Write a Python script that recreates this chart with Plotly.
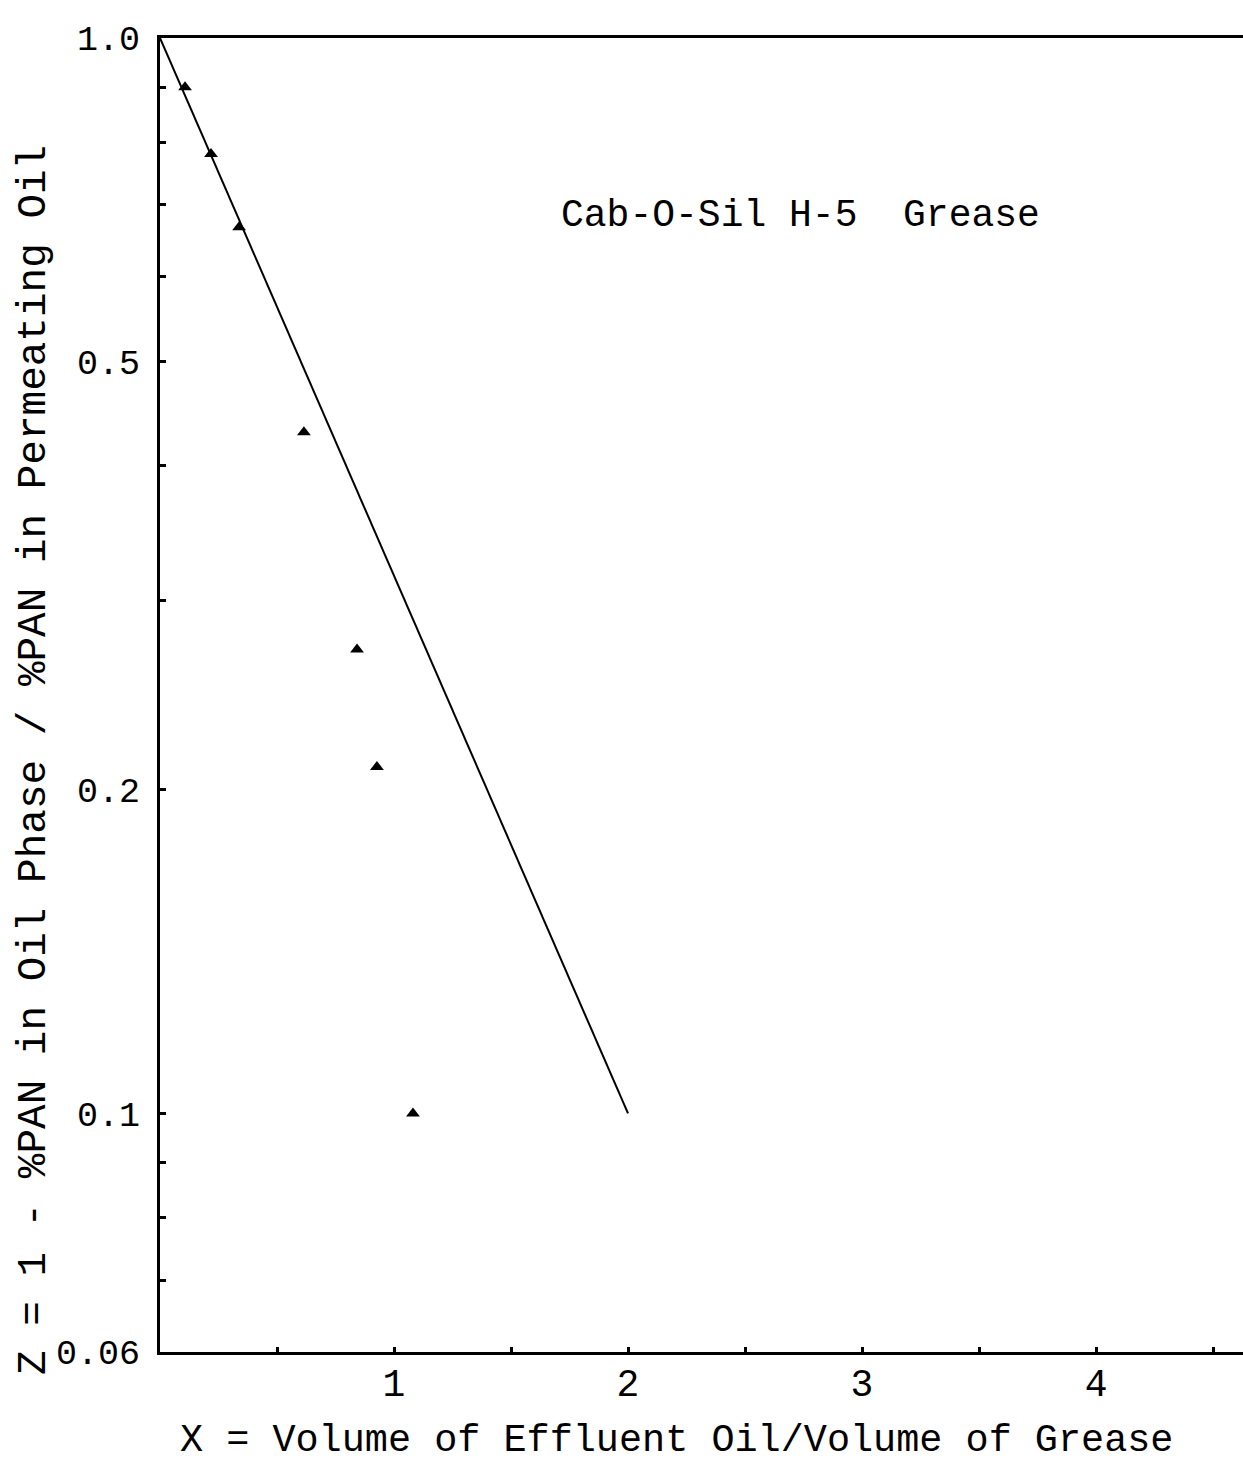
import plotly.graph_objects as go

# Measured data (triangles)
x_data = [0.107, 0.218, 0.338, 0.615, 0.842, 0.927, 1.081]
z_data = [0.90, 0.78, 0.667, 0.43, 0.27, 0.21, 0.10]

# Fitted straight line (on semi-log paper)
x_line = [0.0, 2.0]
z_line = [1.0, 0.1]

# Tick definitions
x_tickvals = [0.5, 1, 1.5, 2, 2.5, 3, 3.5, 4, 4.5]
x_ticktext = ["", "1", "", "2", "", "3", "", "4", ""]
y_tickvals = [0.06, 0.07, 0.08, 0.09, 0.1, 0.2, 0.3, 0.4, 0.5, 0.6, 0.7, 0.8, 0.9, 1.0]
y_ticktext = ["0.06", "", "", "", "0.1", "0.2", "", "", "0.5", "", "", "", "", "1.0"]

x_title = "X = Volume of Effluent Oil/Volume of Grease"
y_title = "Z = 1 - %PAN in Oil Phase / %PAN in Permeating Oil"
label = "Cab-O-Sil H-5\u00a0\u00a0Grease"

FONT = "Liberation Mono, Courier New, monospace"

fig = go.Figure()
fig.add_trace(go.Scatter(
    x=x_line, y=z_line, mode="lines",
    line=dict(color="black", width=2), showlegend=False, hoverinfo="skip"))
fig.add_trace(go.Scatter(
    x=x_data, y=z_data, mode="markers",
    marker=dict(symbol="triangle-up", size=12, color="black"),
    showlegend=False))

fig.add_annotation(
    x=0.591, y=0.883, xref="paper", yref="paper",
    text=label, showarrow=False,
    font=dict(family=FONT, size=38, color="black"))

# Axis titles placed as annotations to match original positions
fig.add_annotation(
    x=(676 - 160) / 1083, y=-(1441 - 1352) / 1314, xref="paper", yref="paper",
    text=x_title, showarrow=False, yanchor="middle",
    font=dict(family=FONT, size=38.5, color="black"))
fig.add_annotation(
    x=-(160 - 34) / 1083, y=(1352 - 760) / 1314, xref="paper", yref="paper",
    text=y_title, showarrow=False, textangle=-90, xanchor="center", yanchor="middle",
    font=dict(family=FONT, size=41, color="black"))

fig.update_layout(
    width=1243, height=1469,
    margin=dict(l=160, r=0, t=38, b=117),
    paper_bgcolor="white", plot_bgcolor="white",
    font=dict(family=FONT, color="black"),
    xaxis=dict(
        range=[0, 4.628], showgrid=False, zeroline=False,
        showline=True, linecolor="black", linewidth=2.5, mirror=True,
        ticks="inside", ticklen=5, tickwidth=2.5, tickcolor="black",
        tickvals=x_tickvals, ticktext=x_ticktext,
        tickfont=dict(family=FONT, size=38, color="black"),
        ticklabelstandoff=-4,
    ),
    yaxis=dict(
        type="log", range=[-1.2218, 0], showgrid=False, zeroline=False,
        showline=True, linecolor="black", linewidth=3,
        ticks="inside", ticklen=6, tickwidth=3, tickcolor="black",
        tickvals=y_tickvals, ticktext=y_ticktext,
        tickfont=dict(family=FONT, size=35, color="black"),
        ticklabelstandoff=10,
    ),
)

fig.write_html("out.html")
